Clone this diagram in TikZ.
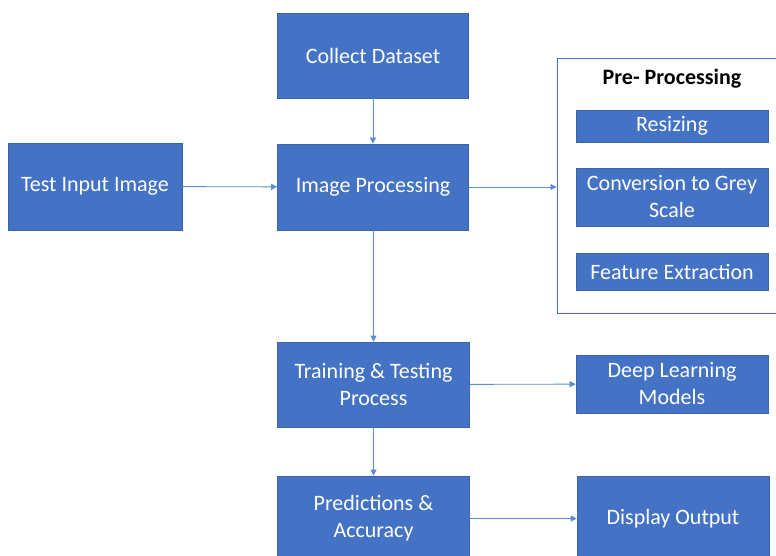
\documentclass[tikz,border=0pt]{standalone}
\usepackage{fontspec}
\setmainfont{Carlito}
\usetikzlibrary{arrows.meta,shadows}
\definecolor{boxfill}{HTML}{4472C4}
\definecolor{boxedge}{HTML}{3B64AD}
\definecolor{linkblue}{HTML}{5B8BD0}
\tikzset{
  block/.style={rectangle, fill=boxfill, draw=boxedge, line width=0.6pt,
    text=white, align=center, inner sep=2pt,
    font=\fontsize{22}{27}\selectfont},
  link/.style={draw=linkblue, line width=0.9pt,
    -{Triangle[length=6pt,width=6pt]}},
  frame/.style={rectangle, draw=boxfill, line width=1pt, inner sep=0pt}
}
\begin{document}
\begin{tikzpicture}[x=1pt,y=-1pt]
\useasboundingbox (0,0) rectangle (776,556);

% main column
\node[block, minimum width=191pt, minimum height=85pt] (collect) at (373,55.5) {Collect Dataset};
\node[block, minimum width=191pt, minimum height=86pt] (imgproc) at (373,187) {Image Processing};
\node[block, minimum width=192pt, minimum height=85pt] (train) at (373.5,384.5) {Training \& Testing\\Process};
\node[block, minimum width=192pt, minimum height=85pt] (pred) at (373.5,518.5) {Predictions \&\\Accuracy};

% input
\node[block, minimum width=174pt, minimum height=87pt,
      drop shadow={shadow xshift=1.2pt, shadow yshift=-1.2pt, fill=black!60, opacity=0.6}] (test) at (95,186.5) {Test Input Image};

% pre-processing group
\node[frame, minimum width=233pt, minimum height=254pt] (pre) at (673.5,186) {};
\node[font=\fontsize{22}{27}\selectfont\bfseries] (pretitle) at (672,79) {Pre- Processing};
\node[block, minimum width=192pt, minimum height=32pt] (resize) at (672,126) {Resizing};
\node[block, minimum width=192pt, minimum height=58pt] (grey) at (672,197) {Conversion to Grey\\Scale};
\node[block, minimum width=192pt, minimum height=37pt] (feat) at (672,271.5) {Feature Extraction};

% right column
\node[block, minimum width=192pt, minimum height=58pt] (dl) at (672,384) {Deep Learning\\Models};
\node[block, minimum width=192pt, minimum height=85pt] (disp) at (673,518.5) {Display Output};

% connectors
\draw[link] (collect) -- (imgproc);
\draw[link] (test) -- (imgproc);
\draw[link] (imgproc.east) -- (imgproc.east -| pre.west);
\draw[link] (imgproc.south) -- (imgproc.south -| train.north) -- (train.north);
\draw[link] (train) -- (dl);
\draw[link] (train) -- (pred);
\draw[link] (pred) -- (disp);
\end{tikzpicture}
\end{document}
